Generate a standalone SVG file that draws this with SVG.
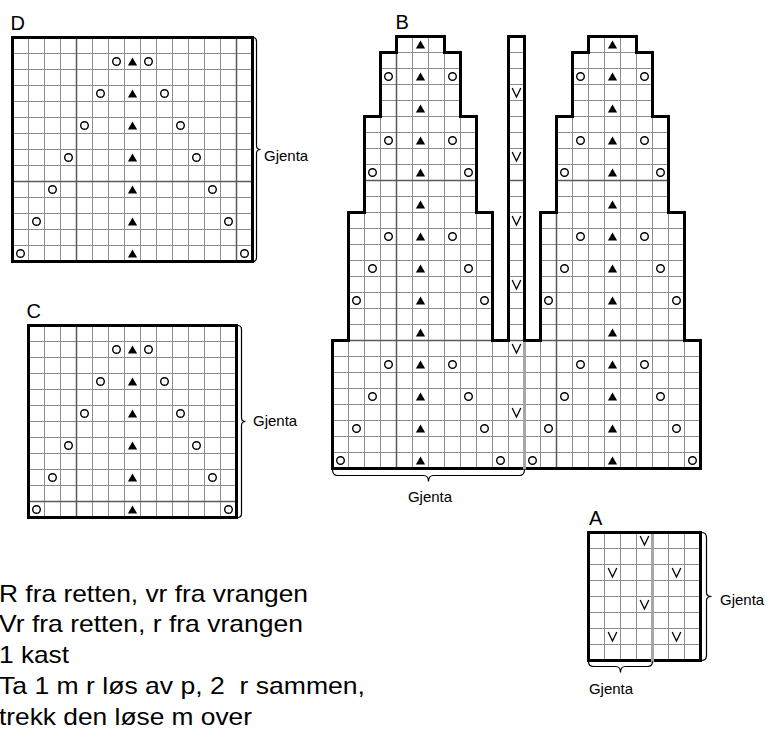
<svg xmlns="http://www.w3.org/2000/svg" xmlns:xlink="http://www.w3.org/1999/xlink" width="767" height="731" viewBox="0 0 767 731">
<style>
.g{fill:none;stroke:#8c8c8c;stroke-width:1}
.gd{fill:none;stroke:#5a5a5a;stroke-width:1.5}
.bd{fill:none;stroke:#000;stroke-width:3;stroke-linejoin:miter}
.rep{fill:none;stroke:#a6a6a6;stroke-width:3}
.br{fill:none;stroke:#000;stroke-width:1.2}
.lbl{font-family:"Liberation Sans",Arial,sans-serif;font-size:20px;fill:#000}
.gj{font-family:"Liberation Sans",Arial,sans-serif;font-size:15px;fill:#000}
.lg{font-family:"Liberation Sans",Arial,sans-serif;font-size:24px;fill:#000;white-space:pre}
</style>
<defs>
<circle id="o" r="3.8" fill="#fff" stroke="#000" stroke-width="1.4"/>
<path id="tri" d="M0,-4 L4.6,4 L-4.6,4Z" fill="#000"/>
<path id="vv" d="M-4.3,-4.5 L0,4.5 L4.3,-4.5" fill="none" stroke="#000" stroke-width="1.3"/>
<clipPath id="clipB"><path d="M332 468V340H348V212H364V116H380V52H396V36H444V52H460V116H476V212H492V340H508V36H524V340H540V212H556V116H572V52H588V36H636V52H652V116H668V212H684V340H700V468Z"/></clipPath>
</defs>
<rect width="767" height="731" fill="#fff"/>

<text class="lbl" x="10.5" y="29.5">D</text>
<text class="lbl" x="26.5" y="318">C</text>
<text class="lbl" x="395.5" y="29">B</text>
<text class="lbl" x="589" y="525">A</text>

<g transform="translate(0.5,0.5)">
<g id="chart-D">
<rect x="12" y="37" width="240" height="224" fill="#fff"/>
<path class="g" d="M28 37V261M44 37V261M60 37V261M92 37V261M108 37V261M124 37V261M140 37V261M156 37V261M172 37V261M188 37V261M204 37V261M220 37V261M12 53H252M12 69H252M12 85H252M12 101H252M12 117H252M12 133H252M12 149H252M12 165H252M12 197H252M12 213H252M12 229H252M12 245H252"/>
<path class="gd" d="M76 37V261M236 37V261M12 181H252"/>
<rect class="bd" x="12" y="37" width="240" height="224"/>
<use xlink:href="#o" x="116" y="61"/><use xlink:href="#tri" x="132" y="61"/><use xlink:href="#o" x="148" y="61"/>
<use xlink:href="#o" x="100" y="93"/><use xlink:href="#tri" x="132" y="93"/><use xlink:href="#o" x="164" y="93"/>
<use xlink:href="#o" x="84" y="125"/><use xlink:href="#tri" x="132" y="125"/><use xlink:href="#o" x="180" y="125"/>
<use xlink:href="#o" x="68" y="157"/><use xlink:href="#tri" x="132" y="157"/><use xlink:href="#o" x="196" y="157"/>
<use xlink:href="#o" x="52" y="189"/><use xlink:href="#tri" x="132" y="189"/><use xlink:href="#o" x="212" y="189"/>
<use xlink:href="#o" x="36" y="221"/><use xlink:href="#tri" x="132" y="221"/><use xlink:href="#o" x="228" y="221"/>
<use xlink:href="#o" x="20" y="253"/><use xlink:href="#tri" x="132" y="253"/><use xlink:href="#o" x="244" y="253"/>
</g>

<g id="chart-C">
<rect x="28" y="325" width="208" height="192" fill="#fff"/>
<path class="g" d="M44 325V517M60 325V517M92 325V517M108 325V517M124 325V517M140 325V517M156 325V517M172 325V517M188 325V517M204 325V517M220 325V517M28 341H236M28 357H236M28 373H236M28 389H236M28 405H236M28 421H236M28 437H236M28 453H236M28 469H236M28 485H236"/>
<path class="gd" d="M76 325V517M28 501H236"/>
<rect class="bd" x="28" y="325" width="208" height="192"/>
<use xlink:href="#o" x="116" y="349"/><use xlink:href="#tri" x="132" y="349"/><use xlink:href="#o" x="148" y="349"/>
<use xlink:href="#o" x="100" y="381"/><use xlink:href="#tri" x="132" y="381"/><use xlink:href="#o" x="164" y="381"/>
<use xlink:href="#o" x="84" y="413"/><use xlink:href="#tri" x="132" y="413"/><use xlink:href="#o" x="180" y="413"/>
<use xlink:href="#o" x="68" y="445"/><use xlink:href="#tri" x="132" y="445"/><use xlink:href="#o" x="196" y="445"/>
<use xlink:href="#o" x="52" y="477"/><use xlink:href="#tri" x="132" y="477"/><use xlink:href="#o" x="212" y="477"/>
<use xlink:href="#o" x="36" y="509"/><use xlink:href="#tri" x="132" y="509"/><use xlink:href="#o" x="228" y="509"/>
</g>

<g id="chart-B">
<path d="M332 468V340H348V212H364V116H380V52H396V36H444V52H460V116H476V212H492V340H508V36H524V340H540V212H556V116H572V52H588V36H636V52H652V116H668V212H684V340H700V468Z" fill="#fff"/>
<g clip-path="url(#clipB)">
<path class="g" d="M348 36V468M364 36V468M380 36V468M412 36V468M428 36V468M444 36V468M460 36V468M476 36V468M492 36V468M508 36V468M540 36V468M572 36V468M588 36V468M604 36V468M620 36V468M636 36V468M652 36V468M668 36V468M684 36V468M332 52H700M332 68H700M332 84H700M332 100H700M332 116H700M332 132H700M332 148H700M332 164H700M332 196H700M332 212H700M332 228H700M332 244H700M332 260H700M332 276H700M332 292H700M332 308H700M332 324H700M332 356H700M332 372H700M332 388H700M332 404H700M332 420H700M332 436H700M332 452H700"/>
<path class="gd" d="M396 36V468M556 36V468M332 180H700M332 340H700"/>
</g>
<path class="bd" d="M332 468V340H348V212H364V116H380V52H396V36H444V52H460V116H476V212H492V340H508V36H524V340H540V212H556V116H572V52H588V36H636V52H652V116H668V212H684V340H700V468Z"/>
<path class="rep" d="M524 341.5V469"/>
<use xlink:href="#tri" x="420" y="44"/><use xlink:href="#tri" x="612" y="44"/>
<use xlink:href="#tri" x="420" y="76"/><use xlink:href="#tri" x="612" y="76"/>
<use xlink:href="#tri" x="420" y="108"/><use xlink:href="#tri" x="612" y="108"/>
<use xlink:href="#tri" x="420" y="140"/><use xlink:href="#tri" x="612" y="140"/>
<use xlink:href="#tri" x="420" y="172"/><use xlink:href="#tri" x="612" y="172"/>
<use xlink:href="#tri" x="420" y="204"/><use xlink:href="#tri" x="612" y="204"/>
<use xlink:href="#tri" x="420" y="236"/><use xlink:href="#tri" x="612" y="236"/>
<use xlink:href="#tri" x="420" y="268"/><use xlink:href="#tri" x="612" y="268"/>
<use xlink:href="#tri" x="420" y="300"/><use xlink:href="#tri" x="612" y="300"/>
<use xlink:href="#tri" x="420" y="332"/><use xlink:href="#tri" x="612" y="332"/>
<use xlink:href="#tri" x="420" y="364"/><use xlink:href="#tri" x="612" y="364"/>
<use xlink:href="#tri" x="420" y="396"/><use xlink:href="#tri" x="612" y="396"/>
<use xlink:href="#tri" x="420" y="428"/><use xlink:href="#tri" x="612" y="428"/>
<use xlink:href="#tri" x="420" y="460"/><use xlink:href="#tri" x="612" y="460"/>
<use xlink:href="#o" x="388" y="76"/><use xlink:href="#o" x="452" y="76"/><use xlink:href="#o" x="580" y="76"/><use xlink:href="#o" x="644" y="76"/>
<use xlink:href="#o" x="388" y="140"/><use xlink:href="#o" x="452" y="140"/><use xlink:href="#o" x="580" y="140"/><use xlink:href="#o" x="644" y="140"/>
<use xlink:href="#o" x="372" y="172"/><use xlink:href="#o" x="468" y="172"/><use xlink:href="#o" x="564" y="172"/><use xlink:href="#o" x="660" y="172"/>
<use xlink:href="#o" x="388" y="236"/><use xlink:href="#o" x="452" y="236"/><use xlink:href="#o" x="580" y="236"/><use xlink:href="#o" x="644" y="236"/>
<use xlink:href="#o" x="372" y="268"/><use xlink:href="#o" x="468" y="268"/><use xlink:href="#o" x="564" y="268"/><use xlink:href="#o" x="660" y="268"/>
<use xlink:href="#o" x="356" y="300"/><use xlink:href="#o" x="484" y="300"/><use xlink:href="#o" x="548" y="300"/><use xlink:href="#o" x="676" y="300"/>
<use xlink:href="#o" x="388" y="364"/><use xlink:href="#o" x="452" y="364"/><use xlink:href="#o" x="580" y="364"/><use xlink:href="#o" x="644" y="364"/>
<use xlink:href="#o" x="372" y="396"/><use xlink:href="#o" x="468" y="396"/><use xlink:href="#o" x="564" y="396"/><use xlink:href="#o" x="660" y="396"/>
<use xlink:href="#o" x="356" y="428"/><use xlink:href="#o" x="484" y="428"/><use xlink:href="#o" x="548" y="428"/><use xlink:href="#o" x="676" y="428"/>
<use xlink:href="#o" x="340" y="460"/><use xlink:href="#o" x="500" y="460"/><use xlink:href="#o" x="532" y="460"/><use xlink:href="#o" x="692" y="460"/>
<use xlink:href="#vv" x="516" y="92"/><use xlink:href="#vv" x="516" y="156"/><use xlink:href="#vv" x="516" y="220"/>
<use xlink:href="#vv" x="516" y="284"/><use xlink:href="#vv" x="516" y="348"/><use xlink:href="#vv" x="516" y="412"/>
</g>

<g id="chart-A">
<rect x="588" y="532" width="112" height="128" fill="#fff"/>
<path class="g" d="M604 532V660M620 532V660M636 532V660M668 532V660M684 532V660M588 548H700M588 564H700M588 580H700M588 596H700M588 612H700M588 628H700M588 644H700"/>
<rect class="bd" x="588" y="532" width="112" height="128"/>
<path class="rep" d="M652 533.5V662"/>
<use xlink:href="#vv" x="644" y="540"/>
<use xlink:href="#vv" x="612" y="572"/><use xlink:href="#vv" x="676" y="572"/>
<use xlink:href="#vv" x="644" y="604"/>
<use xlink:href="#vv" x="612" y="636"/><use xlink:href="#vv" x="676" y="636"/>
</g>

<g id="braces">
<path class="br" d="M252 37q4 0 4 4V145q0 4 4 4q-4 0-4 4V257q0 4-4 4"/>
<path class="br" d="M237 325q4 0 4 4V417q0 4 4 4q-4 0-4 4V513q0 4-4 4"/>
<path class="br" d="M701 532q5 0 5 5V592q0 4 5 4q-5 0-5 4V655q0 5-5 5"/>
<path class="br" d="M332 469q0 6 5 6H423q5 0 5 6q0-6 5-6H519q5 0 5-6"/>
<path class="br" d="M588 661q0 5 5 5H615q5 0 5 6q0-6 5-6H647q5 0 5-5"/>
</g>
</g>

<g id="repeat-labels">
<text class="gj" x="264" y="161">Gjenta</text>
<text class="gj" x="253" y="426">Gjenta</text>
<text class="gj" x="720" y="605">Gjenta</text>
<text class="gj" x="430" y="502" text-anchor="middle">Gjenta</text>
<text class="gj" x="611" y="694" text-anchor="middle">Gjenta</text>
</g>

<g id="legend">
<text class="lg" x="-1" y="602" textLength="309" lengthAdjust="spacingAndGlyphs">R fra retten, vr fra vrangen</text>
<text class="lg" x="-1" y="632" textLength="304" lengthAdjust="spacingAndGlyphs">Vr fra retten, r fra vrangen</text>
<text class="lg" x="-1" y="663" textLength="70" lengthAdjust="spacingAndGlyphs">1 kast</text>
<text class="lg" x="-1" y="694" textLength="366" lengthAdjust="spacingAndGlyphs" xml:space="preserve">Ta 1 m r løs av p, 2  r sammen,</text>
<text class="lg" x="-1" y="725" textLength="253" lengthAdjust="spacingAndGlyphs">trekk den løse m over</text>
</g>
</svg>
